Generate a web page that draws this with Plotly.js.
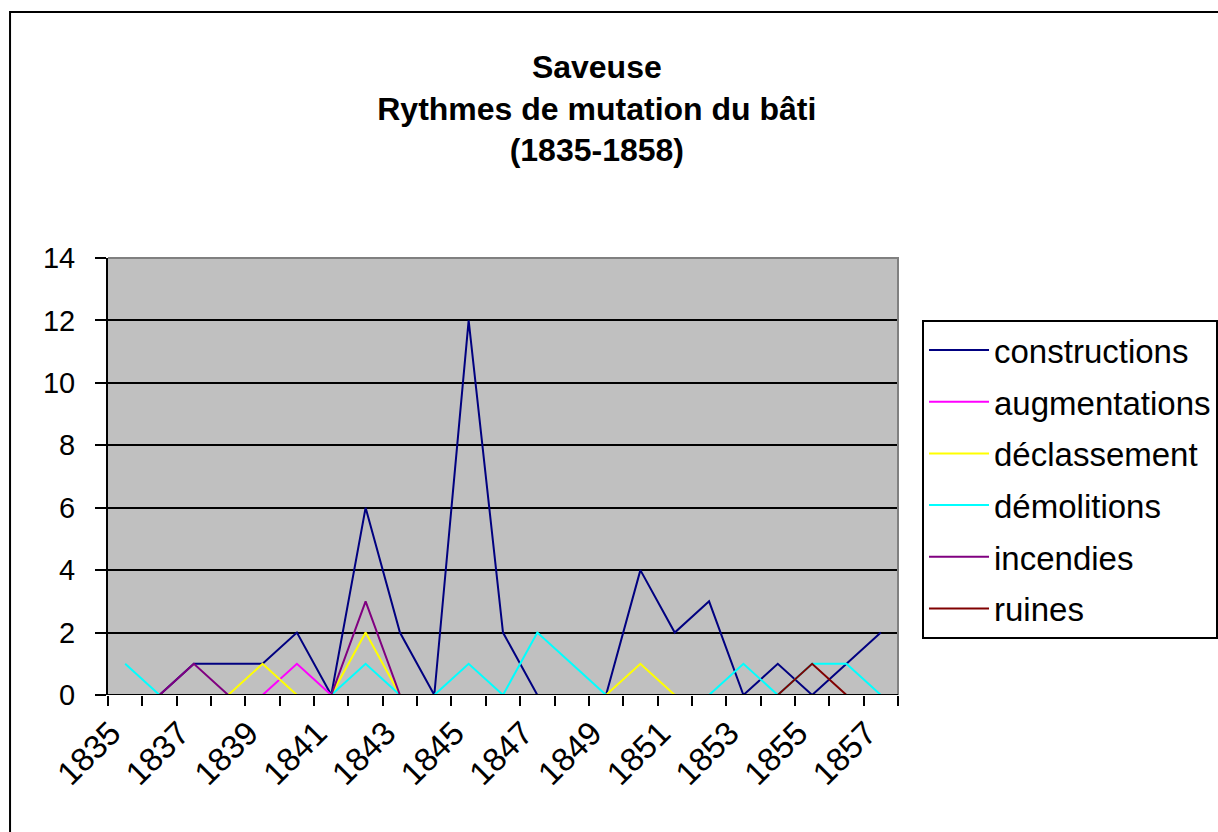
<!DOCTYPE html>
<html>
<head>
<meta charset="utf-8">
<script src="https://cdn.plot.ly/plotly-3.0.1.min.js"></script>
<style>
  html, body { margin: 0; padding: 0; background: #ffffff; }
  #chart { width: 1218px; height: 832px; }
</style>
</head>
<body>
<div id="chart"></div>
<script>
// Years (categories)
const years = [1835,1836,1837,1838,1839,1840,1841,1842,1843,1844,1845,1846,1847,1848,1849,1850,1851,1852,1853,1854,1855,1856,1857];
const tickYears = [1835,1837,1839,1841,1843,1845,1847,1849,1851,1853,1855,1857];
const tickLabels = ["1835","1837","1839","1841","1843","1845","1847","1849","1851","1853","1855","1857"];

// Series values
const constructions = [0,0,1,1,1,2,0,6,2,0,12,2,0,0,0,4,2,3,0,1,0,1,2];
const augmentations = [0,0,0,0,0,1,0,0,0,0,0,0,0,0,0,0,0,0,0,0,0,0,0];
const declassement  = [0,0,0,0,1,0,0,2,0,0,0,0,0,0,0,1,0,0,0,0,0,0,0];
const demolitions   = [1,0,0,0,0,0,0,1,0,0,1,0,2,1,0,0,0,0,1,0,1,1,0];
const incendies     = [0,0,1,0,0,0,0,3,0,0,0,0,0,0,0,0,0,0,0,0,0,0,0];
const ruines        = [0,0,0,0,0,0,0,0,0,0,0,0,0,0,0,0,0,0,0,0,1,0,0];

const seriesNames  = ["constructions","augmentations","déclassement","démolitions","incendies","ruines"];
const seriesValues = [constructions, augmentations, declassement, demolitions, incendies, ruines];
const seriesColors = ["#000080","#ff00ff","#ffff00","#00ffff","#800080","#800000"];

const traces = seriesNames.map((name, i) => ({
  type: "scatter",
  mode: "lines",
  name: name,
  legendgroup: "g" + i,
  x: years,
  y: seriesValues[i],
  line: { color: seriesColors[i], width: 2 },
  hoverinfo: "x+y+name"
}));

const font = "Arial, 'Liberation Sans', sans-serif";

const layout = {
  width: 1218,
  height: 832,
  margin: { l: 108, r: 320, t: 258, b: 137, pad: 0, autoexpand: false },
  paper_bgcolor: "#ffffff",
  plot_bgcolor: "#c0c0c0",
  font: { family: font, color: "#000000", size: 29 },
  title: {
    text: "Saveuse<br>Rythmes de mutation du bâti<br>(1835-1858)",
    font: { family: font, size: 32, color: "#000000", weight: "bold" },
    x: 0.49, xref: "container", xanchor: "center",
    y: 0.906, yref: "container", yanchor: "top"
  },
  showlegend: true,
  legend: {
    x: 1.0304, xanchor: "left",
    y: 0.858, yanchor: "top",
    bgcolor: "#ffffff",
    bordercolor: "#000000",
    borderwidth: 2,
    font: { family: font, size: 33, color: "#000000" },
    itemwidth: 60,
    traceorder: "grouped",
    tracegroupgap: 5.8
  },
  xaxis: {
    type: "linear",
    range: [1834.5, 1857.5],
    tickmode: "array",
    tickvals: tickYears,
    ticktext: tickLabels,
    tickangle: -45,
    ticks: "",
    ticklabelstandoff: 11,
    ticklabelshift: -14,
    tickfont: { family: font, size: 33, color: "#000000" },
    showgrid: false,
    zeroline: false,
    showline: false,
    minor: {
      tick0: 1834.5,
      dtick: 1,
      ticks: "outside",
      ticklen: 10,
      tickwidth: 2,
      tickcolor: "#000000",
      showgrid: false
    },
    fixedrange: true
  },
  yaxis: {
    range: [0, 14],
    tickmode: "linear",
    tick0: 0,
    dtick: 2,
    ticks: "outside",
    ticklen: 11,
    tickwidth: 2,
    tickcolor: "#000000",
    ticklabelstandoff: 14,
    tickfont: { family: font, size: 29, color: "#000000" },
    showgrid: true,
    gridcolor: "#000000",
    gridwidth: 2,
    zeroline: false,
    showline: true,
    linecolor: "#000000",
    linewidth: 2,
    fixedrange: true
  },
  shapes: [
    // plot area border (top and right), grey like the original
    { type: "path", xref: "paper", yref: "paper", path: "M 0,1 L 1,1 L 1,0",
      line: { color: "#808080", width: 2 }, layer: "above" },
    // category axis line on top of the series
    { type: "line", xref: "paper", yref: "y", x0: 0, x1: 1, y0: 0, y1: 0,
      line: { color: "#000000", width: 2 }, layer: "above" },
    // chart frame
    { type: "rect", xref: "paper", yref: "paper", x0: -0.124, x1: 1.45, y0: -0.36, y1: 1.563,
      line: { color: "#000000", width: 2 }, fillcolor: "rgba(0,0,0,0)", layer: "above" }
  ]
};

Plotly.newPlot("chart", traces, layout, { displayModeBar: false, staticPlot: true });
</script>
</body>
</html>
